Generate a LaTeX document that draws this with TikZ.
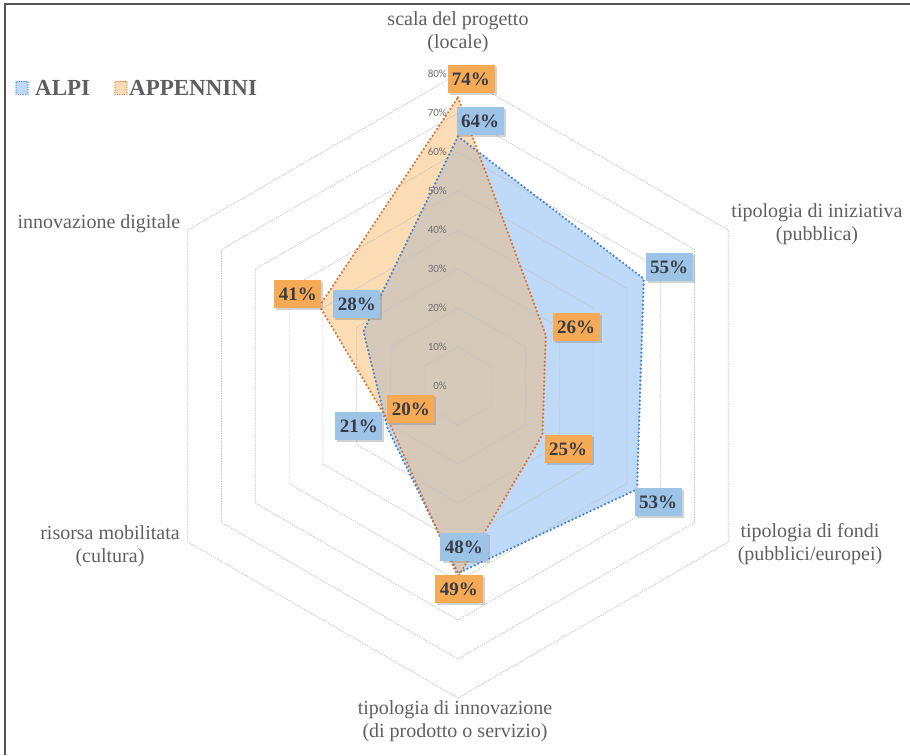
\documentclass[tikz,border=0pt]{standalone}
\usepackage{fontspec}
\setmainfont{Liberation Serif}
\newfontfamily\tickfont{Carlito}
\usetikzlibrary{shadows}
\definecolor{bluefill}{RGB}{190,218,248}
\definecolor{orangefill}{RGB}{251,220,180}
\definecolor{taupe}{RGB}{214,201,186}
\definecolor{blueline}{RGB}{70,130,205}
\definecolor{orangeline}{RGB}{218,115,50}
\definecolor{bluebox}{RGB}{157,195,230}
\definecolor{orangebox}{RGB}{247,170,85}
\definecolor{gridgrey}{RGB}{195,195,195}
\definecolor{textgrey}{RGB}{95,95,95}
\definecolor{tickgrey}{RGB}{110,110,110}
\definecolor{labeltext}{RGB}{55,60,70}
\definecolor{framegrey}{RGB}{85,85,85}
\begin{document}
\begin{tikzpicture}[x=1pt,y=1pt,
  axislabel/.style={align=center,text=textgrey,font=\fontsize{20}{23}\selectfont,inner sep=0pt},
  ticklabel/.style={anchor=east,text=tickgrey,font=\tickfont\fontsize{11}{12}\selectfont,inner sep=0pt},
  valbox/.style={minimum width=47pt,minimum height=28pt,inner sep=0pt,text=labeltext,font=\bfseries\fontsize{19}{21}\selectfont,drop shadow={shadow xshift=2pt,shadow yshift=-2pt,opacity=0.35,fill=gray}},
  bluebx/.style={valbox,fill=bluebox},
  orangebx/.style={valbox,fill=orangebox},
  gridline/.style={draw=gridgrey,line width=0.7pt,dash pattern=on 1.5pt off 1pt},
  bluebord/.style={draw=blueline,line width=2.5pt,dash pattern=on 0pt off 4pt,line cap=round},
  orangebord/.style={draw=orangeline,line width=2.5pt,dash pattern=on 0pt off 4pt,line cap=round},
  legsq/.style={minimum width=12pt,minimum height=13pt,inner sep=0pt,line width=1.4pt,dash pattern=on 0pt off 2.4pt,line cap=round},
  legtext/.style={anchor=west,inner sep=0pt,text=textgrey,font=\bfseries\fontsize{23}{26}\selectfont}
]
\useasboundingbox (-458,-369) rectangle (452,386);
% frame
\draw[framegrey,line width=2pt] (-452.5,-369) -- (-452.5,382) -- (452,382);
% data coordinates
\foreach \n/\a/\v in {1/90/64, 2/30/55, 3/-30/53, 4/-90/48, 5/210/21, 6/150/28}{
  \pgfmathsetmacro\rr{3.9*\v}
  \coordinate (a\n) at (\a:\rr);
}
\foreach \n/\a/\v in {1/90/74, 2/30/26, 3/-30/25, 4/-90/49, 5/210/20, 6/150/41}{
  \pgfmathsetmacro\rr{3.9*\v}
  \coordinate (p\n) at (\a:\rr);
}
% fills
\fill[bluefill] (a1)--(a2)--(a3)--(a4)--(a5)--(a6)--cycle;
\fill[orangefill] (p1)--(p2)--(p3)--(p4)--(p5)--(p6)--cycle;
\begin{scope}
  \clip (p1)--(p2)--(p3)--(p4)--(p5)--(p6)--cycle;
  \fill[taupe] (a1)--(a2)--(a3)--(a4)--(a5)--(a6)--cycle;
\end{scope}
% grid
\foreach \k in {1,...,8}{
  \pgfmathsetmacro\rr{39*\k}
  \draw[gridline] (90:\rr)--(30:\rr)--(-30:\rr)--(-90:\rr)--(210:\rr)--(150:\rr)--cycle;
}
\foreach \k/\t in {0/0,1/10,2/20,3/30,4/40,5/50,6/60,7/70,8/80}{
  \node[ticklabel] (tick\k) at (-11,39*\k) {\t\%};
}
% borders
\draw[bluebord] (a1)--(a2)--(a3)--(a4)--(a5)--(a6)--cycle;
\draw[orangebord] (p1)--(p2)--(p3)--(p4)--(p5)--(p6)--cycle;
% axis titles
\node[axislabel] (ax1) at (0,354) {scala del progetto\\(locale)};
\node[axislabel] (ax2) at (359,162) {tipologia di iniziativa\\(pubblica)};
\node[axislabel] (ax3) at (352,-158) {tipologia di fondi\\(pubblici/europei)};
\node[axislabel] (ax4) at (-3,-335) {tipologia di innovazione\\(di prodotto o servizio)};
\node[axislabel] (ax5) at (-348,-160) {risorsa mobilitata\\(cultura)};
\node[axislabel] (ax6) at (-359,162) {innovazione digitale};
% value boxes
\node[orangebx] (v74) at (13,307) {74\%};
\node[bluebx] (v64) at (22,265) {64\%};
\node[bluebx] (v55) at (211,119) {55\%};
\node[orangebx] (v26) at (118,59) {26\%};
\node[orangebx] (v25) at (110,-63) {25\%};
\node[bluebx] (v53) at (200,-116) {53\%};
\node[bluebx] (v48) at (6,-161) {48\%};
\node[orangebx] (v49) at (1,-203) {49\%};
\node[orangebx] (v20) at (-47,-23) {20\%};
\node[bluebx] (v21) at (-99,-40) {21\%};
\node[bluebx] (v28) at (-101,82) {28\%};
\node[orangebx] (v41) at (-160,92) {41\%};
% legend
\node[legsq,fill=bluefill,draw=blueline] (lsq1) at (-436,298) {};
\node[legtext] (lt1) at (-423,298) {ALPI};
\node[legsq,fill=orangefill,draw=orangeline] (lsq2) at (-337,298) {};
\node[legtext] (lt2) at (-329,298) {APPENNINI};
\end{tikzpicture}
\end{document}
